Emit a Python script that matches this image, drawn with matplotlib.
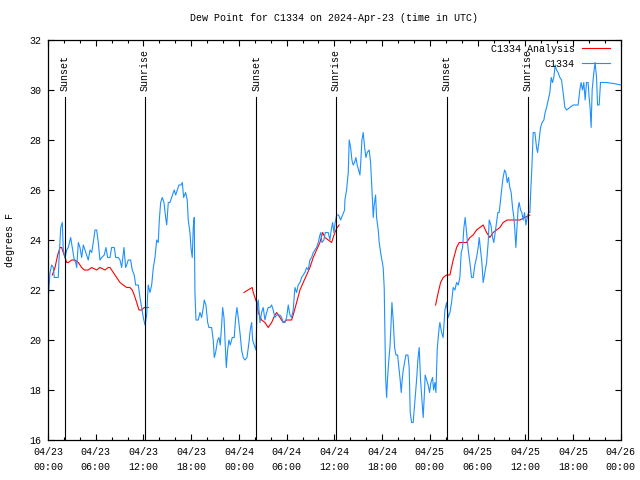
import matplotlib
matplotlib.use("Agg")
import matplotlib.pyplot as plt
from matplotlib.ticker import MultipleLocator

# hours since 2024-04-23 00:00 UTC, dew point in degF
obs_hours = [0.04, 0.25, 0.46, 0.67, 0.79, 1.29, 1.38, 1.60, 1.80, 1.92, 2.14, 2.35, 2.55, 2.85,
             3.10, 3.30, 3.48, 3.61, 3.81, 4.02, 4.23, 4.44, 4.65, 4.86, 5.06, 5.28, 5.49, 5.69,
             5.91, 6.12, 6.32, 6.53, 6.75, 7.07, 7.29, 7.50, 7.79, 8.00, 8.33, 8.51, 8.83, 9.05,
             9.26, 9.55, 9.76, 9.89, 10.09, 10.39, 10.59, 10.84, 11.02, 11.35, 11.56, 11.77, 11.98,
             12.19, 12.40, 12.60, 12.82, 13.03, 13.24, 13.45, 13.66, 13.86, 13.99, 14.16, 14.36,
             14.58, 14.79, 14.92, 15.12, 15.33, 15.54, 15.75, 15.87, 16.05, 16.25, 16.46, 16.71,
             16.88, 17.05, 17.30, 17.50, 17.63, 17.84, 17.97, 18.13, 18.26, 18.38, 18.47, 18.60,
             18.89, 19.10, 19.31, 19.52, 19.64, 19.85, 20.07, 20.23, 20.57, 20.77, 20.90, 21.07,
             21.32, 21.49, 21.65, 21.83, 21.95, 22.12, 22.24, 22.41, 22.58, 22.74, 22.91, 23.16,
             23.41, 23.59, 23.75, 23.91, 24.13, 24.34, 24.54, 24.75, 25.01, 25.26, 25.42, 25.60,
             25.72, 25.92, 26.14, 26.30, 26.43, 26.64, 26.85, 27.05, 27.27, 27.48, 27.68, 27.90,
             28.11, 28.31, 28.52, 28.74, 29.15, 29.37, 29.57, 29.78, 29.99, 30.20, 30.41, 30.62,
             30.82, 31.04, 31.25, 31.45, 31.67, 31.88, 32.08, 32.29, 32.51, 32.71, 32.92, 33.14,
             33.34, 33.55, 33.76, 33.97, 34.18, 34.31, 34.43, 34.68, 34.85, 35.22, 35.44, 35.60,
             35.78, 35.94, 36.10, 36.28, 36.53, 36.78, 37.03, 37.28, 37.32, 37.53, 37.74, 37.86,
             38.04, 38.20, 38.36, 38.54, 38.70, 38.87, 39.04, 39.21, 39.33, 39.46, 39.62, 39.80,
             39.96, 40.12, 40.37, 40.55, 40.68, 40.80, 40.88, 41.00, 41.18, 41.30, 41.51, 41.63,
             41.81, 41.97, 42.13, 42.26, 42.35, 42.44, 42.56, 42.69, 42.81, 42.98, 43.10, 43.23,
             43.39, 43.57, 43.73, 43.94, 44.11, 44.27, 44.40, 44.52, 44.65, 44.82, 44.99, 45.24,
             45.40, 45.53, 45.70, 45.90, 46.03, 46.21, 46.33, 46.49, 46.66, 46.83, 47.00, 47.16,
             47.29, 47.41, 47.59, 47.79, 47.96, 48.13, 48.34, 48.47, 48.63, 48.76, 48.92, 49.05,
             49.17, 49.26, 49.47, 49.67, 49.89, 50.10, 50.30, 50.52, 50.73, 50.93, 51.15, 51.36,
             51.56, 51.77, 51.94, 52.11, 52.28, 52.44, 52.61, 52.82, 53.03, 53.24, 53.44, 53.66,
             53.87, 54.07, 54.20, 54.37, 54.54, 54.70, 54.91, 55.13, 55.33, 55.46, 55.67, 55.88,
             56.04, 56.21, 56.38, 56.55, 56.71, 56.89, 57.05, 57.21, 57.39, 57.55, 57.72, 57.89,
             58.05, 58.22, 58.39, 58.56, 58.68, 58.81, 58.93, 59.10, 59.22, 59.40, 59.56, 59.73,
             59.90, 60.07, 60.23, 60.41, 60.57, 60.70, 60.82, 60.99, 61.20, 61.41, 61.54, 61.70,
             61.91, 62.11, 62.33, 62.49, 62.67, 62.87, 63.08, 63.25, 63.42, 63.58, 63.75, 63.92,
             64.12, 64.34, 64.55, 64.75, 64.97, 65.18, 65.59, 66.01, 66.64, 66.85, 67.01, 67.19,
             67.35, 67.52, 67.69, 67.89, 68.02, 68.14, 68.27, 68.40, 68.61, 68.77, 68.95, 69.08,
             69.28, 69.45, 70.21, 71.25, 72.00]
obs_dewpt = [21.7, 22.7, 23.0, 22.9, 22.5, 22.5, 23.2, 24.5, 24.7, 23.6, 23.3, 23.6, 23.7, 24.1,
             23.6, 23.2, 23.1, 22.9, 23.9, 23.7, 23.3, 23.8, 23.6, 23.4, 23.2, 23.6, 23.5, 23.9,
             24.4, 24.4, 23.9, 23.2, 23.3, 23.4, 23.7, 23.3, 23.3, 23.7, 23.7, 23.3, 23.3, 23.2,
             22.9, 23.7, 22.9, 23.0, 23.2, 23.2, 22.8, 22.6, 22.2, 22.2, 21.7, 21.3, 20.9,
             20.6, 21.0, 22.2, 21.9, 22.2, 22.9, 23.3, 24.0, 23.9, 24.8, 25.5, 25.7,
             25.5, 24.9, 24.6, 25.5, 25.5, 25.7, 25.9, 26.0, 25.8, 26.0, 26.2, 26.2,
             26.3, 25.7, 25.9, 25.6, 24.8, 24.3, 23.7, 23.3, 24.5, 24.9, 21.9, 20.8,
             20.8, 21.1, 20.9, 21.3, 21.6, 21.4, 20.7, 20.5, 20.5, 20.0, 19.3, 19.5,
             20.0, 20.1, 19.8, 20.6, 21.3, 20.9, 20.1, 18.9, 19.6, 20.0, 19.8, 20.1,
             20.1, 20.9, 21.3, 20.9, 20.3, 19.6, 19.3, 19.2, 19.3, 19.9, 20.4, 20.7,
             20.0, 19.8, 19.6, 21.4, 21.6, 20.7, 21.1, 21.3, 20.8, 21.1, 21.3, 21.3,
             21.4, 21.2, 20.9, 21.0, 21.0, 20.9, 20.7, 20.7, 20.9, 21.4, 21.0, 20.9,
             21.2, 22.1, 21.9, 22.2, 22.3, 22.5, 22.6, 22.7, 22.9, 22.8, 23.2, 23.3,
             23.5, 23.6, 23.7, 23.9, 24.2, 24.3, 23.9, 24.0, 24.3, 24.3, 24.0, 24.4,
             24.7, 24.3, 24.7, 25.0, 25.0, 24.8, 25.0, 25.2, 25.6, 26.0, 26.7, 28.0,
             27.7, 27.2, 27.0, 27.1, 27.3, 27.0, 26.8, 26.6, 27.2, 28.0, 28.3, 27.7,
             27.3, 27.5, 27.6, 27.1, 26.3, 25.5, 24.9, 25.4, 25.8, 24.9, 24.4, 23.9,
             23.5, 23.2, 22.9, 22.1, 20.3, 18.5, 17.7, 18.5, 19.1, 19.7, 20.5, 21.5,
             20.8, 19.7, 19.4, 19.4, 18.9, 18.4, 17.9, 18.4, 18.8, 19.1, 19.4, 19.4,
             18.9, 17.1, 16.7, 16.7, 17.2, 17.9, 18.4, 19.2, 19.7, 18.4, 17.6, 16.9,
             17.7, 18.6, 18.4, 18.2, 17.9, 18.3, 18.5, 18.0, 18.3, 17.9, 19.6, 20.1,
             20.5, 20.7, 20.3, 20.1, 21.2, 21.5, 20.9, 21.1, 21.5, 22.1, 22.0, 22.3,
             22.2, 22.5, 23.5, 23.7, 24.5, 24.9, 24.3, 23.6, 23.1, 22.5, 22.5, 23.0,
             23.3, 23.7, 24.1, 23.6, 23.1, 22.3, 22.7, 23.1, 23.9, 24.8, 24.6, 24.1,
             23.9, 24.3, 24.7, 25.1, 25.1, 25.6, 26.1, 26.5, 26.8, 26.7, 26.3, 26.5,
             26.1, 25.9, 25.3, 24.9, 24.4, 23.7, 24.4, 25.3, 25.5, 25.2, 25.1, 24.8,
             25.1, 24.6, 24.9, 25.1, 25.1, 26.1, 26.9, 28.3, 28.3, 27.7, 27.5, 27.9,
             28.5, 28.7, 28.8, 29.1, 29.3, 29.6, 29.9, 30.5, 30.3, 30.5, 31.0, 30.8,
             30.7, 30.5, 30.4, 29.9, 29.3, 29.2, 29.3, 29.4, 29.4, 30.0, 30.3, 30.0,
             30.3, 29.6, 30.3, 30.3, 29.7, 29.3, 28.5, 30.0, 30.7, 31.1, 30.5, 29.4,
             29.4, 30.3, 30.3, 30.25, 30.2]

# analysis series, three separate pieces
ana1_hours = [0.54, 0.88, 1.22, 1.51, 1.72, 1.92, 2.14, 2.35, 2.55, 2.98, 3.39, 3.81, 4.23, 4.56,
              5.06, 5.49, 6.12, 6.53, 7.16, 7.58, 7.79, 8.21, 8.63, 9.05, 9.46, 9.89, 10.30,
              10.59, 10.84, 11.15, 11.44, 11.77, 12.10, 12.60]
ana1_dewpt = [22.6, 22.9, 23.4, 23.7, 23.7, 23.5, 23.3, 23.1, 23.1, 23.2, 23.2, 23.1, 22.9, 22.8,
              22.8, 22.9, 22.8, 22.9, 22.8, 22.9, 22.9, 22.7, 22.5, 22.3, 22.2, 22.1, 22.1,
              22.0, 21.8, 21.5, 21.2, 21.2, 21.3, 21.3]
ana2_hours = [24.63, 25.13, 25.67, 25.80, 26.22, 26.43, 26.85, 27.27, 27.68, 28.11, 28.52, 28.74,
              29.15, 29.57, 29.99, 30.62, 30.82, 31.25, 31.67, 32.08, 32.51, 32.92, 33.34, 33.76,
              34.18, 34.52, 34.81, 35.22, 35.65, 35.85, 36.06, 36.35, 36.60]
ana2_dewpt = [21.9, 22.0, 22.1, 21.9, 21.5, 21.1, 20.8, 20.7, 20.5, 20.7, 21.0, 21.1,
              20.9, 20.7, 20.8, 20.8, 21.0, 21.5, 22.0, 22.3, 22.6, 22.9, 23.3, 23.6,
              23.9, 24.3, 24.1, 24.0, 23.9, 24.1, 24.3, 24.5, 24.6]
ana3_hours = [48.72, 49.05, 49.35, 49.67, 50.10, 50.52, 50.93, 51.36, 51.69, 52.61, 53.03, 53.44,
              53.87, 54.28, 54.70, 55.13, 55.54, 55.96, 56.38, 56.80, 57.21, 57.72, 58.90, 59.31,
              59.94, 60.57]
ana3_dewpt = [21.4, 21.9, 22.3, 22.5, 22.6, 22.6, 23.2, 23.7, 23.9, 23.9, 24.1, 24.2,
              24.4, 24.5, 24.6, 24.3, 24.1, 24.3, 24.4, 24.5, 24.7, 24.8, 24.8, 24.8,
              24.9, 25.0]

sun_hours = [2.13, 12.19, 26.2, 36.18, 50.1, 60.3]
sun_labels = ["Sunset", "Sunrise", "Sunset", "Sunrise", "Sunset", "Sunrise"]

tick_hours = [0, 6, 12, 18, 24, 30, 36, 42, 48, 54, 60, 66, 72]
tick_labels = ["04/23\n00:00", "04/23\n06:00", "04/23\n12:00", "04/23\n18:00",
               "04/24\n00:00", "04/24\n06:00", "04/24\n12:00", "04/24\n18:00",
               "04/25\n00:00", "04/25\n06:00", "04/25\n12:00", "04/25\n18:00",
               "04/26\n00:00"]

plt.rcParams["font.family"] = ["Liberation Mono", "DejaVu Sans Mono"]
plt.rcParams["font.size"] = 7.2

fig = plt.figure(figsize=(6.4, 4.8), dpi=100)
ax = fig.add_axes([0.075, 0.0833, 0.895, 0.8334])

red = "#ff0000"
blue = "#1e90ff"
lw = 0.8
ax.plot(ana1_hours, ana1_dewpt, color=red, lw=lw, label="C1334 Analysis")
ax.plot(ana2_hours, ana2_dewpt, color=red, lw=lw)
ax.plot(ana3_hours, ana3_dewpt, color=red, lw=lw)
ax.plot(obs_hours, obs_dewpt, color=blue, lw=lw, label="C1334")

for h, lab in zip(sun_hours, sun_labels):
    ax.plot([h, h], [16, 29.7], color="black", lw=lw)
    ax.text(h, 29.95, lab, rotation=90, ha="center", va="bottom")

ax.set_xlim(0, 72)
ax.set_ylim(16, 32)
ax.set_xticks(tick_hours)
ax.set_xticklabels(tick_labels, linespacing=1.6)
ax.xaxis.set_minor_locator(MultipleLocator(2))
ax.yaxis.set_major_locator(MultipleLocator(2))
ax.tick_params(which="both", direction="in", top=True, right=True, width=0.8)
ax.tick_params(which="major", length=4, pad=5)
ax.tick_params(which="minor", length=2.2)
for s in ax.spines.values():
    s.set_linewidth(0.9)

ax.set_title("Dew Point for C1334 on 2024-Apr-23 (time in UTC)", fontsize=7.2, pad=14)
ax.set_ylabel("degrees F", labelpad=10)

ax.legend(loc="upper right", frameon=False, markerfirst=False, handlelength=2.8,
          borderaxespad=0.0, borderpad=0.4, labelspacing=0.5, handletextpad=0.7,
          bbox_to_anchor=(0.988, 1.0))

fig.savefig("out.png", dpi=100)
